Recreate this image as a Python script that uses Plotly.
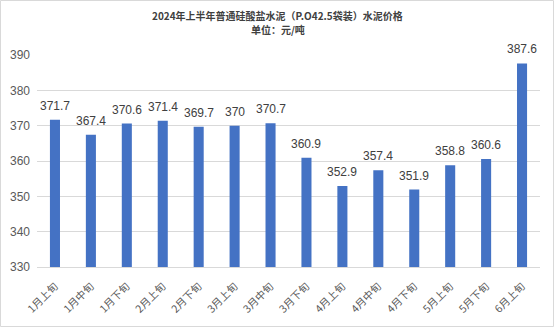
import plotly.graph_objects as go

# 2024 H1 ordinary Portland cement (P.O42.5 bagged) price, yuan/ton, by ten-day period
periods = ["1月上旬", "1月中旬", "1月下旬", "2月上旬", "2月下旬", "3月上旬", "3月中旬",
           "3月下旬", "4月上旬", "4月中旬", "4月下旬", "5月上旬", "5月下旬", "6月上旬"]
prices = [371.7, 367.4, 370.6, 371.4, 369.7, 370, 370.7,
          360.9, 352.9, 357.4, 351.9, 358.8, 360.6, 387.6]
y_ticks = [330, 340, 350, 360, 370, 380, 390]

W, H = 555, 328
ML, MR, MT, MB = 37, 15, 55, 61

font_family = "Liberation Sans, Noto Sans CJK SC, sans-serif"
cjk_family = "Noto Sans CJK SC, sans-serif"

fig = go.Figure()
fig.add_trace(go.Bar(
    x=periods,
    y=prices,
    marker=dict(color="#4472C4", line=dict(width=0)),
    hoverinfo="x+y",
))

pw = W - ML - MR
ph = H - MT - MB

# value labels sitting above each bar
value_labels = [
    dict(x=p, y=v, xref="x", yref="y", text=f"{v:g}", showarrow=False,
         xanchor="center", yanchor="bottom", yshift=5,
         font=dict(size=12, color="#404040", family=font_family))
    for p, v in zip(periods, prices)
]

title_x = 0.5 + (MR - ML) / 2 / pw
titles = [
    dict(text="<b>2024年上半年普通硅酸盐水泥（P.O42.5袋装）水泥价格</b>",
         xref="paper", yref="paper", x=title_x, y=1 + (MT - 15) / ph,
         xanchor="center", yanchor="middle", showarrow=False,
         font=dict(size=10, color="#404040", family=cjk_family)),
    dict(text="<b>单位：元/吨</b>",
         xref="paper", yref="paper", x=title_x, y=1 + (MT - 30) / ph,
         xanchor="center", yanchor="middle", showarrow=False,
         font=dict(size=10, color="#404040", family=cjk_family)),
]

fig.update_layout(
    width=W, height=H,
    margin=dict(l=ML, r=MR, t=MT, b=MB, autoexpand=False),
    paper_bgcolor="white",
    plot_bgcolor="white",
    bargap=0.72,
    showlegend=False,
    font=dict(family=font_family, color="#595959"),
    xaxis=dict(
        tickangle=-45,
        tickfont=dict(size=10.5, color="#595959", family=cjk_family),
        showline=True, linecolor="#d9d9d9", linewidth=1,
        ticks="",
        ticklabelstandoff=8,
        automargin=False,
    ),
    yaxis=dict(
        range=[330, 390],
        tickvals=y_ticks,
        tickfont=dict(size=12, color="#595959"),
        showgrid=True, gridcolor="#d9d9d9", gridwidth=1,
        zeroline=False,
        ticklabelstandoff=6,
        automargin=False,
    ),
    annotations=value_labels + titles,
    shapes=[dict(
        type="rect", xref="paper", yref="paper",
        x0=-(ML - 0.5) / pw, x1=1 + (MR - 1.5) / pw,
        y0=-(MB - 1.5) / ph, y1=1 + (MT - 0.5) / ph,
        line=dict(color="#d9d9d9", width=1),
        fillcolor="rgba(0,0,0,0)",
    )],
)

fig.write_html("out.html")
